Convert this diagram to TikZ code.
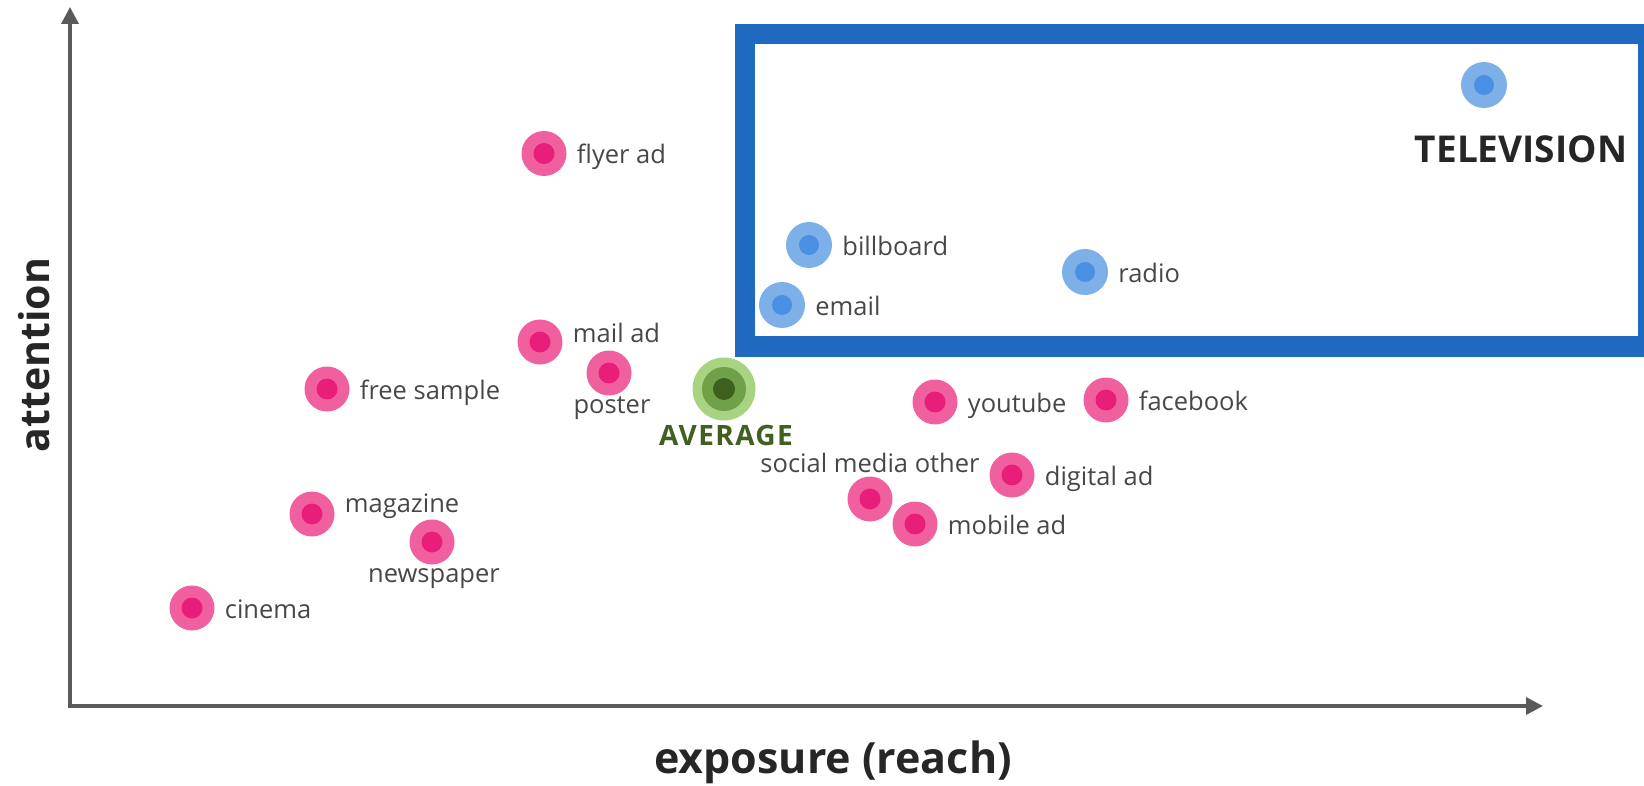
\documentclass[tikz,border=0pt]{standalone}
\usepackage{fontspec}
\setmainfont{Open Sans}
\usetikzlibrary{positioning, arrows.meta}
\definecolor{pinkout}{HTML}{F1609E}
\definecolor{pinkin}{HTML}{E91E7A}
\definecolor{blueout}{HTML}{7DB0E8}
\definecolor{bluein}{HTML}{4A90E2}
\definecolor{greenout}{HTML}{A8D482}
\definecolor{greenmid}{HTML}{70A048}
\definecolor{greenin}{HTML}{3E601E}
\definecolor{avgtext}{HTML}{40601F}
\definecolor{boxblue}{HTML}{1F69C1}
\definecolor{axisgray}{HTML}{5A5A5A}
\definecolor{lblgray}{HTML}{474747}
\tikzset{
  pinkdot/.style={
    circle,
    fill=pinkout,
    minimum size=45pt,
    inner sep=0pt,
    path picture={\fill[pinkin] (path picture bounding box.center) circle (10.5pt);}
  },
  bluedot/.style={
    circle,
    fill=blueout,
    minimum size=46pt,
    inner sep=0pt,
    path picture={\fill[bluein] (path picture bounding box.center) circle (10pt);}
  },
  avgdot/.style={
    circle,
    fill=greenout,
    minimum size=63pt,
    inner sep=0pt,
    path picture={\fill[greenmid] (path picture bounding box.center) circle (22pt);
                  \fill[greenin] (path picture bounding box.center) circle (11pt);}
  },
  lbl/.style={
    text=lblgray,
    font=\fontsize{25.5}{30}\selectfont,
    inner sep=2pt,
    text height=19pt,
    text depth=5pt,
    yshift=-3.5pt
  },
  biglbl/.style={
    font=\fontsize{#1}{#1}\selectfont\bfseries,
    inner sep=2pt
  },
  axis/.style={
    line width=3.5pt,
    draw=axisgray
  }
}

\begin{document}
\begin{tikzpicture}[x=1pt, y=-1pt, >={Triangle[length=17pt, width=17pt]}, node distance=8pt]
        \useasboundingbox (0,0) rectangle (1644,786);

        % axes
        \coordinate (origin) at (70,706);
        \coordinate (ytip)   at (70,7);
        \coordinate (xtip)   at (1543,706);
        \draw[axis, <->] (ytip) -- (origin) -- (xtip);
        \node[biglbl=41, text=black!85, rotate=90] (attn) at (34,355) {attention};
        \node[biglbl=43, text=black!85] (expo) at (833,762) {exposure (reach)};

        % top quadrant frame
        \coordinate (boxnw) at (745,34);
        \coordinate (boxse) at (1648,346.5);
        \draw[line width=20pt, draw=boxblue] (boxnw) rectangle (boxse);

        % Define the dots
        \node[pinkdot] (flyer)   at (544,153.5) {};
        \node[pinkdot] (mail)    at (540,342)   {};
        \node[pinkdot] (poster)  at (609,373)   {};
        \node[pinkdot] (sample)  at (327,389)   {};
        \node[pinkdot] (magazine) at (312,514)  {};
        \node[pinkdot] (newspaper) at (432,542) {};
        \node[pinkdot] (cinema)  at (192,608)   {};
        \node[pinkdot] (youtube) at (935,402)   {};
        \node[pinkdot] (facebook) at (1106,400) {};
        \node[pinkdot] (social)  at (870,499)   {};
        \node[pinkdot] (digital) at (1012,475)  {};
        \node[pinkdot] (mobile)  at (915,524)   {};
        \node[bluedot] (billboard) at (809,245) {};
        \node[bluedot] (radio)   at (1085,272)  {};
        \node[bluedot] (email)   at (782,305)   {};
        \node[bluedot] (tv)      at (1484,85)   {};
        \node[avgdot]  (avg)     at (724,389)   {};

        % labels next to each dot
        \node[lbl] (flyerlbl)   [right=of flyer]            {flyer ad};
        \node[lbl] (maillbl)    [right=of mail, yshift=10pt] {mail ad};
        \node[lbl] (posterlbl)  [below=-7pt of poster, xshift=3pt] {poster};
        \node[lbl] (samplelbl)  [right=of sample]           {free sample};
        \node[lbl] (magazinelbl) [right=of magazine, yshift=12pt] {magazine};
        \node[lbl] (newspaperlbl) [below=-7pt of newspaper, xshift=2pt] {newspaper};
        \node[lbl] (cinemalbl)  [right=of cinema]           {cinema};
        \node[lbl] (youtubelbl) [right=of youtube]          {youtube};
        \node[lbl] (facebooklbl) [right=of facebook]        {facebook};
        \node[lbl] (sociallbl)  [above=0pt of social]       {social media other};
        \node[lbl] (digitallbl) [right=of digital]          {digital ad};
        \node[lbl] (mobilelbl)  [right=of mobile]           {mobile ad};
        \node[lbl] (billboardlbl) [right=of billboard]      {billboard};
        \node[lbl] (radiolbl)   [right=of radio]            {radio};
        \node[lbl] (emaillbl)   [right=of email]            {email};
        \node[biglbl=37, text=black!85] (tvlbl) [below=25pt of tv, xshift=37pt] {TELEVISION};
        \node[biglbl=28, text=avgtext] (avglbl) [below=2pt of avg, xshift=2pt] {\addfontfeature{LetterSpace=5}AVERAGE};
\end{tikzpicture}
\end{document}
